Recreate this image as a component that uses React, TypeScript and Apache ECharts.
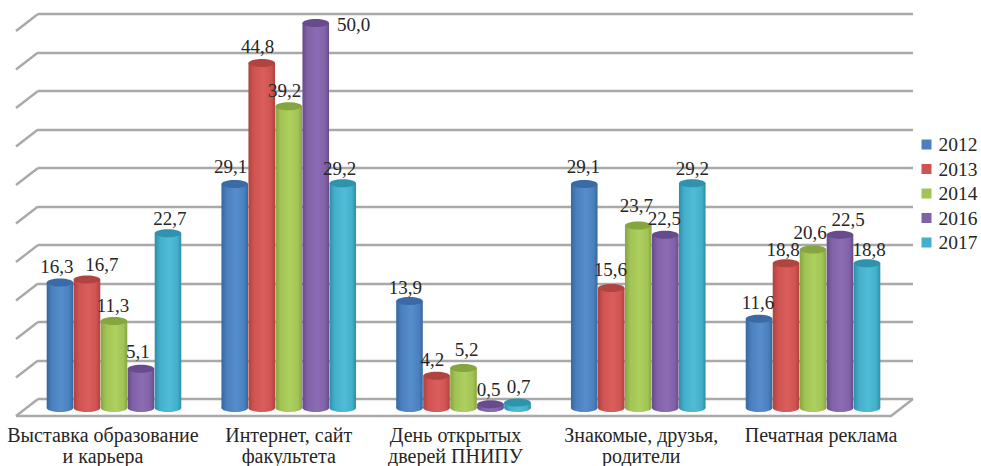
import React, { useEffect, useRef } from "react";
import * as echarts from "echarts";

const categories = [
  { value: "Выставка образование\nи карьера", shift: -11 },
  { value: "Интернет, сайт\nфакультета", shift: 0 },
  { value: "День открытых\nдверей ПНИПУ", shift: -8 },
  { value: "Знакомые, друзья,\nродители", shift: 3 },
  { value: "Печатная реклама", shift: 8 },
];
const years = ["2012", "2013", "2014", "2016", "2017"];
const values2012 = [16.3, 29.1, 13.9, 29.1, 11.6];
const values2013 = [16.7, 44.8, 4.2, 15.6, 18.8];
const values2014 = [11.3, 39.2, 5.2, 23.7, 20.6];
const values2016 = [5.1, 50.0, 0.5, 22.5, 22.5];
const values2017 = [22.7, 29.2, 0.7, 29.2, 18.8];
const seriesValues = [values2012, values2013, values2014, values2016, values2017];
const wallTicks = [0, 5, 10, 15, 20, 25, 30, 35, 40, 45, 50];

const palette = [
  { base: "#4a80bd", dark: "#37689f", light: "#568dcc", top: "#3a6ba6" },
  { base: "#cf5350", dark: "#ad4240", light: "#da5e5b", top: "#b04441" },
  { base: "#a2c355", dark: "#87a640", light: "#add05f", top: "#86a53f" },
  { base: "#8162a8", dark: "#664b8b", light: "#8c6db5", top: "#674b8c" },
  { base: "#43afca", dark: "#2f8ea8", light: "#51bcd6", top: "#2f93ad" },
];

// label nudges relative to each bar's top, per series then per category
const labelDx = [
  [-3, -4, -4, -1, -1],
  [15, -4, -4, -1, -3],
  [-1, -4, 3, -2, -3],
  [-3, 38, -2, -1, 8],
  [2, -3, 1, 0, 2],
];
const labelDy = [
  [-16, -17, -13, -17, -16],
  [-15, -17, -16, -18, -14],
  [-15, -16, -18, -20, -17],
  [-17, 1, -15, -16, -15],
  [-15, -15, -16, -15, -14],
];

const FONT = "'Liberation Serif', 'Times New Roman', serif";
const TEXT = "#262626";
const LINE = "#a9a9a9";
const SIDE_DX = -22;
const SIDE_DY = 17;
const BAR_SHARE = 0.1545;

function cylinder(seriesIndex: number) {
  const c = palette[seriesIndex];
  const body = new echarts.graphic.LinearGradient(0, 0, 1, 0, [
    { offset: 0, color: c.dark },
    { offset: 0.2, color: c.base },
    { offset: 0.55, color: c.light },
    { offset: 0.85, color: c.base },
    { offset: 1, color: c.dark },
  ]);
  return (params: any, api: any) => {
    const cat = api.value(0);
    const val = api.value(1);
    const band = api.size([1, 0])[0];
    const w = band * BAR_SHARE;
    const center = api.coord([cat, 0])[0] + (seriesIndex - 2) * w;
    const base = api.coord([cat, 0])[1];
    const top = api.coord([cat, val])[1];
    const rx = w / 2 - 0.2;
    const ry = 4;
    return {
      type: "group",
      children: [
        { type: "ellipse", shape: { cx: center, cy: base, rx, ry }, style: { fill: body } },
        { type: "rect", shape: { x: center - rx, y: top, width: rx * 2, height: base - top }, style: { fill: body } },
        { type: "ellipse", shape: { cx: center, cy: top, rx, ry }, style: { fill: c.top } },
        {
          type: "text",
          z2: 50,
          x: center + labelDx[seriesIndex][cat],
          y: top + labelDy[seriesIndex][cat],
          style: {
            text: val.toFixed(1).replace(".", ","),
            fill: TEXT,
            font: `19px ${FONT}`,
            align: "center",
            verticalAlign: "middle",
          },
        },
      ],
    };
  };
}

function wallSides(params: any, api: any) {
  const [x, y] = api.coord([0, api.value(0)]);
  return {
    type: "line",
    shape: { x1: x, y1: y, x2: x + SIDE_DX, y2: y + SIDE_DY },
    style: { stroke: LINE, lineWidth: 2.4 },
  };
}

function floorEdge(params: any, api: any) {
  const [x1, y] = api.coord([0, 0]);
  const [x2] = api.coord([1, 0]);
  return {
    type: "polyline",
    shape: {
      points: [
        [x1 + SIDE_DX, y + SIDE_DY],
        [x2 + SIDE_DX, y + SIDE_DY],
        [x2, y],
      ],
    },
    style: { stroke: LINE, lineWidth: 2.4, fill: "none" },
  };
}

export default function App() {
  const ref = useRef<HTMLDivElement>(null);
  useEffect(() => {
    const chart = echarts.init(ref.current!, undefined, { renderer: "svg" });
    chart.setOption({
      animation: false,
      backgroundColor: "#ffffff",
      legend: {
        orient: "vertical",
        left: 921.5,
        top: 134,
        padding: 0,
        itemWidth: 10,
        itemHeight: 10,
        itemGap: 3.5,
        icon: "rect",
        data: years,
        selectedMode: false,
        textStyle: { fontFamily: FONT, fontSize: 19.5, color: TEXT, lineHeight: 21, padding: [0, 0, 0, 2] },
      },
      grid: [
        { left: 38, top: 14, width: 875, height: 385, outerBoundsMode: "none" },
        { left: 26.6, top: 23, width: 873.8, height: 385, outerBoundsMode: "none" },
      ],
      xAxis: [
        { type: "value", gridIndex: 0, min: 0, max: 1, show: false },
        {
          type: "category",
          gridIndex: 1,
          data: categories.map((c) => ({
            value: c.value,
            textStyle: { padding: c.shift < 0 ? [0, -2 * c.shift, 0, 0] : [0, 0, 0, 2 * c.shift] },
          })),
          axisLine: { show: false },
          axisTick: { show: false },
          axisLabel: {
            interval: 0,
            margin: 16,
            fontFamily: FONT,
            fontSize: 20,
            lineHeight: 21.5,
            color: TEXT,
            hideOverlap: false,
            overflow: "none",
          },
        },
      ],
      yAxis: [
        {
          type: "value",
          gridIndex: 0,
          min: 0,
          max: 50,
          interval: 5,
          axisLabel: { show: false },
          axisLine: { show: false },
          axisTick: { show: false },
          splitLine: { show: true, lineStyle: { color: LINE, width: 2.4 } },
        },
        { type: "value", gridIndex: 1, min: 0, max: 50, show: false, splitLine: { show: false } },
      ],
      series: [
        {
          type: "custom",
          name: "wall",
          xAxisIndex: 0,
          yAxisIndex: 0,
          silent: true,
          clip: false,
          z: 1,
          data: wallTicks.map((t) => [t]),
          encode: { y: 0 },
          renderItem: wallSides,
        },
        {
          type: "custom",
          name: "floor",
          xAxisIndex: 0,
          yAxisIndex: 0,
          silent: true,
          clip: false,
          z: 1,
          data: [[0]],
          encode: { y: 0 },
          renderItem: floorEdge,
        },
        ...years.map((year, s) => ({
          type: "custom",
          name: year,
          xAxisIndex: 1,
          yAxisIndex: 1,
          clip: false,
          z: 3,
          itemStyle: { color: palette[s].base },
          data: seriesValues[s].map((v, i) => [i, v]),
          encode: { x: 0, y: 1 },
          renderItem: cylinder(s),
        })),
      ],
    });
    return () => chart.dispose();
  }, []);
  return <div ref={ref} style={{ position: "fixed", left: 0, top: 0, width: 981, height: 466 }} />;
}
